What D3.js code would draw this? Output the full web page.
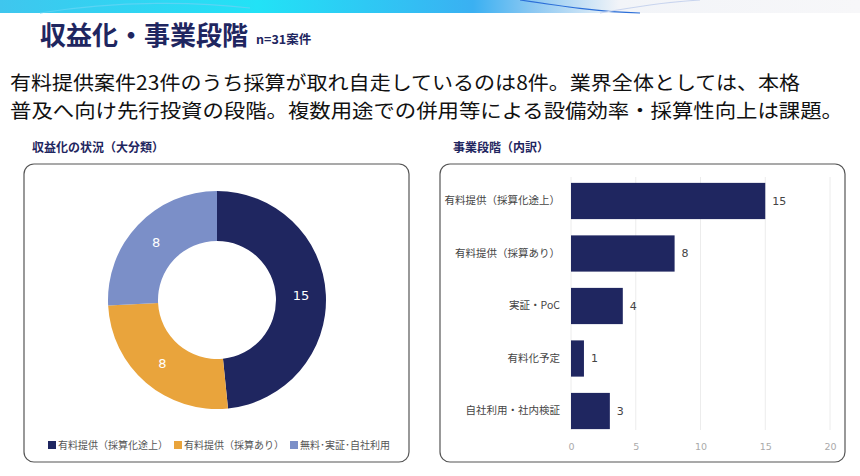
<!DOCTYPE html>
<html>
<head>
<meta charset="UTF-8">
<title>収益化・事業段階</title>
<style>
  body { margin: 0; background: #fff; }
  svg { display: block; font-family: "Noto Sans CJK JP", "Noto Sans", sans-serif; }
</style>
</head>
<body>
<div id="chart"></div>
<script src="https://d3js.org/d3.v7.min.js"></script>
<script>
// data
const donutLabels = ["有料提供（採算化途上）", "有料提供（採算あり）", "無料･実証･自社利用"];
const donutValues = [15, 8, 8];
const donutColors = ["#1f2660", "#e9a43c", "#7b8fc8"];

const stageLabels = ["有料提供（採算化途上）", "有料提供（採算あり）", "実証・PoC", "有料化予定", "自社利用・社内検証"];
const stageValues = [15, 8, 4, 1, 3];
const xTicks = [0, 5, 10, 15, 20];

const width = 860, height = 476;
const navy = "#1f2660";

const svg = d3.select("#chart").append("svg")
  .attr("width", width)
  .attr("height", height);

// top banner
const defs = svg.append("defs");
const grad = defs.append("linearGradient").attr("id", "banner");
[[0, "#3fc6ee"], [0.3, "#22e2f6"], [0.55, "#3ab0f2"], [0.62, "#8cc8f2"], [0.72, "#f2f4f8"], [1, "#f7f7f9"]]
  .forEach(([o, c]) => grad.append("stop").attr("offset", o).attr("stop-color", c));
svg.append("rect").attr("width", width).attr("height", 13).attr("fill", "url(#banner)");
const wave = svg.append("g").attr("fill", "none").attr("stroke-width", 1.2);
wave.append("path").attr("d", "M40,13 C120,0 200,2 250,8").attr("stroke", "#5ad4f4");
wave.append("path").attr("d", "M520,0 C560,6 600,12 640,13").attr("stroke", "#2c6fd8");
wave.append("path").attr("d", "M600,13 C640,6 660,3 700,0").attr("stroke", "#c8d4ee");

// title
svg.append("text")
  .attr("x", 40).attr("y", 45)
  .attr("font-size", 26).attr("font-weight", 700)
  .attr("fill", navy)
  .text("収益化・事業段階");
svg.append("text")
  .attr("x", 256).attr("y", 44)
  .attr("font-size", 12.5).attr("font-weight", 700)
  .attr("fill", navy)
  .text("n=31案件");

// lead text
const lead = [
  { t: "有料提供案件23件のうち採算が取れ自走しているのは8件。業界全体としては、本格", y: 89.5, w: 790 },
  { t: "普及へ向け先行投資の段階。複数用途での併用等による設備効率・採算性向上は課題。", y: 118, w: 833 }
];
svg.selectAll(".lead").data(lead).enter().append("text")
  .attr("class", "lead")
  .attr("x", 10).attr("y", d => d.y)
  .attr("font-size", 19.5)
  .attr("fill", "#111")
  .attr("textLength", d => d.w)
  .attr("lengthAdjust", "spacingAndGlyphs")
  .text(d => d.t);

// section titles
svg.append("text").attr("x", 32).attr("y", 152)
  .attr("font-size", 12).attr("font-weight", 700).attr("fill", navy)
  .text("収益化の状況（大分類）");
svg.append("text").attr("x", 453).attr("y", 152)
  .attr("font-size", 12).attr("font-weight", 700).attr("fill", navy)
  .text("事業段階（内訳）");

// panels
[[24, 164, 385, 298], [440, 164, 405, 298]].forEach(([x, y, w, h]) => {
  svg.append("rect")
    .attr("x", x).attr("y", y).attr("width", w).attr("height", h)
    .attr("rx", 10).attr("fill", "#fff")
    .attr("stroke", "#555").attr("stroke-width", 1.2);
});

// donut
const cx = 217, cy = 300, rOuter = 109, rInner = 59;
const pie = d3.pie().sort(null).value(d => d)(donutValues);
const arc = d3.arc().innerRadius(rInner).outerRadius(rOuter);
const donut = svg.append("g").attr("transform", `translate(${cx},${cy})`);
donut.selectAll("path").data(pie).enter().append("path")
  .attr("d", arc)
  .attr("fill", (d, i) => donutColors[i]);
donut.selectAll(".dl").data(pie).enter().append("text")
  .attr("class", "dl")
  .attr("transform", d => `translate(${arc.centroid(d)})`)
  .attr("text-anchor", "middle")
  .attr("dy", "0.35em")
  .attr("font-size", 13)
  .attr("font-family", "DejaVu Sans, sans-serif")
  .attr("fill", "#fff")
  .text(d => d.data);

// legend
const legend = svg.append("g").attr("transform", "translate(48,445)");
let lx = 0;
donutLabels.forEach((lab, i) => {
  const g = legend.append("g").attr("transform", `translate(${lx},0)`);
  g.append("rect").attr("x", 0).attr("y", -4).attr("width", 8).attr("height", 8).attr("fill", donutColors[i]);
  const t = g.append("text").attr("x", 10).attr("dy", "0.35em")
    .attr("font-size", 10).attr("fill", "#555").text(lab);
  lx += 10 + t.node().getComputedTextLength() + 6;
});

// bar chart
const x = d3.scaleLinear().domain([0, 20]).range([571, 830]);
const y = d3.scaleBand().domain(stageLabels).range([175, 437]).paddingInner(0.31).paddingOuter(0.15);

const bars = svg.append("g");
bars.selectAll(".grid").data(xTicks).enter().append("line")
  .attr("class", "grid")
  .attr("x1", d => x(d)).attr("x2", d => x(d))
  .attr("y1", 177).attr("y2", 430)
  .attr("stroke", "#ececec").attr("stroke-width", 1);

bars.selectAll(".bar").data(stageValues).enter().append("rect")
  .attr("class", "bar")
  .attr("x", x(0))
  .attr("y", (d, i) => y(stageLabels[i]))
  .attr("width", d => x(d) - x(0))
  .attr("height", y.bandwidth())
  .attr("fill", navy);

bars.selectAll(".val").data(stageValues).enter().append("text")
  .attr("class", "val")
  .attr("x", d => x(d) + 7)
  .attr("y", (d, i) => y(stageLabels[i]) + y.bandwidth() / 2)
  .attr("dy", "0.35em")
  .attr("font-size", 11)
  .attr("font-family", "DejaVu Sans, sans-serif")
  .attr("fill", "#444")
  .text(d => d);

const yAxis = svg.append("g")
  .attr("transform", "translate(560,0)")
  .call(d3.axisLeft(y).tickSize(0).tickPadding(0));
yAxis.select(".domain").remove();
yAxis.selectAll("text").attr("font-size", 10.5).attr("fill", "#444")
  .attr("font-family", "Noto Sans CJK JP, sans-serif");

const xAxis = svg.append("g")
  .attr("transform", "translate(0,443)")
  .call(d3.axisBottom(x).tickValues(xTicks).tickSize(0).tickPadding(0));
xAxis.select(".domain").remove();
xAxis.selectAll("text").attr("font-size", 9.5).attr("fill", "#aaa")
  .attr("font-family", "DejaVu Sans, sans-serif");
</script>
</body>
</html>
